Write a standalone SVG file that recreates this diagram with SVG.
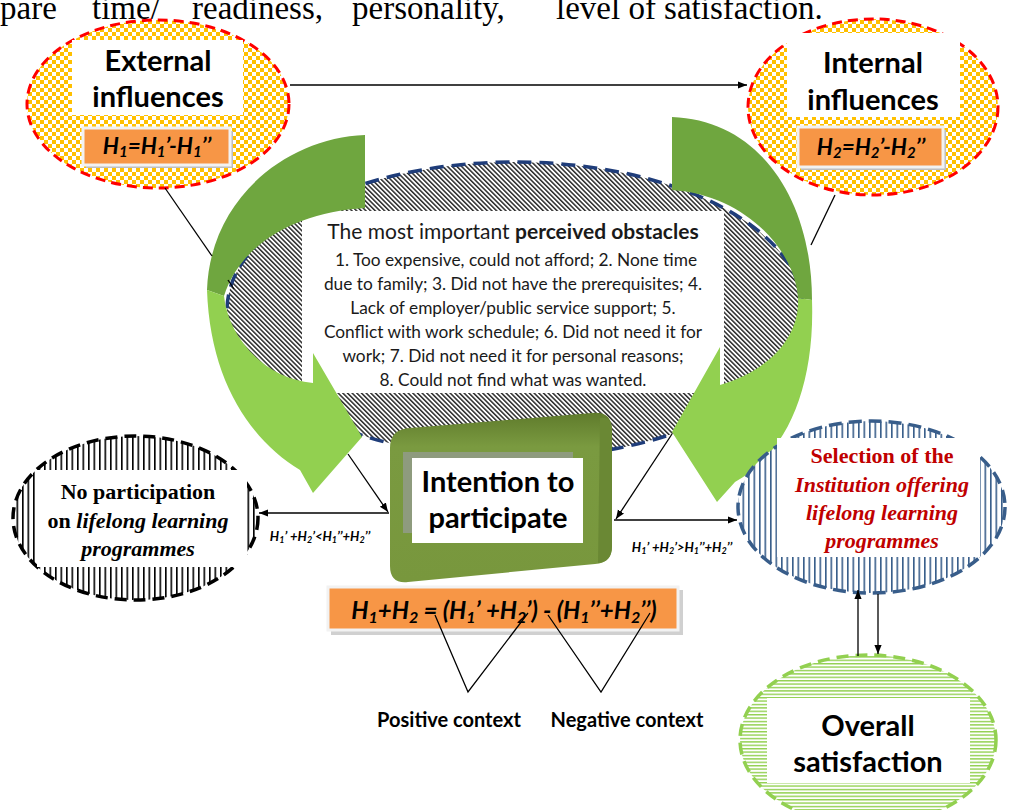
<svg xmlns="http://www.w3.org/2000/svg" width="1010" height="810" viewBox="0 0 1010 810">
<style>
.cal{font-family:Lato,"Open Sans","Liberation Sans",sans-serif}
.ser{font-family:"Liberation Serif","Times New Roman",serif}
.b{font-weight:bold}
.i{font-style:italic}
.ttl{font-family:Lato,"Open Sans","Liberation Sans",sans-serif;font-weight:bold;font-size:29px;text-anchor:middle;fill:#000}
.hx{font-family:Lato,"Open Sans","Liberation Sans",sans-serif;font-weight:bold;font-style:italic;text-anchor:middle;fill:#000}
.ln{stroke:#000;stroke-width:1.3;fill:none}
.arr{stroke:#000;stroke-width:1.3;fill:none;marker-end:url(#ah)}
</style>
<defs>
<marker id="ah" viewBox="0 0 10 10" refX="10" refY="5" markerWidth="9" markerHeight="9" markerUnits="userSpaceOnUse" orient="auto"><path d="M0,1 L10,5 L0,9 Z" fill="#000"/></marker>
<pattern id="chk" width="8" height="8" patternUnits="userSpaceOnUse"><rect width="8" height="8" fill="#fff"/><rect width="4" height="4" fill="#FFC000"/><rect x="4" y="4" width="4" height="4" fill="#FFC000"/></pattern>
<pattern id="diag" width="3.3" height="10" patternUnits="userSpaceOnUse" patternTransform="rotate(-45)"><rect width="3.3" height="10" fill="#fff"/><rect x="0" y="0" width="1.5" height="10" fill="#2a2a2a"/></pattern>
<pattern id="vblack" width="5.5" height="10" patternUnits="userSpaceOnUse"><rect width="5.5" height="10" fill="#fff"/><rect x="0" y="0" width="1.6" height="10" fill="#000"/></pattern>
<pattern id="vblue" width="5.5" height="10" patternUnits="userSpaceOnUse"><rect width="5.5" height="10" fill="#fff"/><rect x="0" y="0" width="1.6" height="10" fill="#385D8A"/></pattern>
<pattern id="hgreen" width="10" height="3.4" patternUnits="userSpaceOnUse"><rect width="10" height="3.4" fill="#fff"/><rect x="0" y="0" width="10" height="1.4" fill="#92D050"/></pattern>
<linearGradient id="olive" x1="0" y1="0" x2="0" y2="1"><stop offset="0" stop-color="#5F7B2C"/><stop offset="0.2" stop-color="#7A9A40"/><stop offset="1" stop-color="#78973D"/></linearGradient>
</defs>
<rect width="1010" height="810" fill="#fff"/>

<g id="top-text" class="ser" font-size="33" fill="#000">
<text x="0" y="19">pare</text>
<text x="92" y="19">time/</text>
<text x="192" y="19">readiness,</text>
<text x="352" y="19">personality,</text>
<text x="556" y="19">level of satisfaction.</text>
</g>

<g id="obstacles">
<ellipse cx="515" cy="310" rx="288" ry="148" fill="url(#diag)" stroke="#1F3D7A" stroke-width="3.5" stroke-dasharray="14 8"/>
<rect x="302" y="211" width="422" height="182" fill="#fff"/>
<text class="cal" x="513" y="239" font-size="21" text-anchor="middle" fill="#1a1a1a">The most important <tspan font-weight="bold">perceived obstacles</tspan></text>
<g class="cal" font-size="17.3" text-anchor="middle" fill="#1a1a1a">
<text x="516" y="266">1. Too expensive, could not afford; 2. None time</text>
<text x="513" y="290">due to family; 3. Did not have the prerequisites; 4.</text>
<text x="513" y="314">Lack of employer/public service support; 5.</text>
<text x="513" y="338">Conflict with work schedule; 6. Did not need it for</text>
<text x="513" y="362">work; 7. Did not need it for personal reasons;</text>
<text x="513" y="386">8. Could not find what was wanted.</text>
</g>
</g>

<g id="cycle-arrows">
<path d="M365,135 C285,138 210,200 207,290 L224,296 C240,245 295,212 365,208 Z" fill="#6FA63F"/>
<path d="M207,290 C210,380 250,440 300,470 L313,493 L362,437 L313,353 L313,383 C262,378 228,335 224,296 Z" fill="#92D050"/>
<path d="M672,117 C760,120 812,200 812,300 L798,298 C795,250 745,195 672,190 Z" fill="#6FA63F"/>
<path d="M812,300 C815,390 785,455 735,482 L717,502 L672,432 L720,347 L720,385 C765,372 800,340 798,298 Z" fill="#92D050"/>
</g>

<g id="external">
<ellipse cx="158" cy="104" rx="131" ry="84" fill="url(#chk)" stroke="#FF0000" stroke-width="3" stroke-dasharray="10 6"/>
<rect x="72" y="40" width="171" height="75" fill="#fff"/>
<text class="ttl" x="158" y="71">External</text>
<text class="ttl" x="158" y="107">influences</text>
<rect x="86" y="131" width="147" height="37" fill="#BFBFBF"/>
<rect x="83" y="128" width="147" height="37" fill="#F79646" stroke="#F2F2F2" stroke-width="3"/>
<text class="hx" x="157" y="154" font-size="22.5">H<tspan font-size="15" dy="3">1</tspan><tspan dy="-3">=H</tspan><tspan font-size="15" dy="3">1</tspan><tspan dy="-3">’-H</tspan><tspan font-size="15" dy="3">1</tspan><tspan dy="-3">’’</tspan></text>
</g>

<g id="internal">
<ellipse cx="873" cy="107" rx="125" ry="88" fill="url(#chk)" stroke="#FF0000" stroke-width="3" stroke-dasharray="10 6"/>
<rect x="787" y="33" width="173" height="84" fill="#fff"/>
<text class="ttl" x="873" y="73">Internal</text>
<text class="ttl" x="873" y="110">influences</text>
<rect x="801" y="130" width="145" height="40" fill="#BFBFBF"/>
<rect x="798" y="127" width="145" height="40" fill="#F79646" stroke="#F2F2F2" stroke-width="3"/>
<text class="hx" x="871" y="155" font-size="22.5">H<tspan font-size="15" dy="3">2</tspan><tspan dy="-3">=H</tspan><tspan font-size="15" dy="3">2</tspan><tspan dy="-3">’-H</tspan><tspan font-size="15" dy="3">2</tspan><tspan dy="-3">’’</tspan></text>
</g>

<g id="intention">
<path d="M410,428 L592,413 Q612,411 612,430 L612,546 Q612,563 595,564 L408,582 Q390,584 390,566 L390,448 Q390,429 410,428 Z" fill="url(#olive)"/>
<path d="M600,418 Q612,416 612,432 L612,546 Q612,562 598,563 Z" fill="#6A8834"/>
<rect x="403" y="452" width="170" height="81" fill="#8E9B7E"/>
<rect x="412" y="458" width="171" height="85" fill="#fff"/>
<text class="ttl" x="498" y="492" font-size="25.5">Intention to</text>
<text class="ttl" x="498" y="528" font-size="25.5">participate</text>
</g>

<g id="formula">
<rect x="331" y="590" width="352" height="45" fill="#D0D0D0"/>
<rect x="328" y="587" width="350" height="43" fill="#F79646" stroke="#F2F2F2" stroke-width="3"/>
<text class="hx" x="504" y="619" font-size="24">H<tspan font-size="16" dy="4">1</tspan><tspan dy="-4">+H</tspan><tspan font-size="16" dy="4">2</tspan><tspan dy="-4"> = (H</tspan><tspan font-size="16" dy="4">1</tspan><tspan dy="-4">’ +H</tspan><tspan font-size="16" dy="4">2</tspan><tspan dy="-4">’) - (H</tspan><tspan font-size="16" dy="4">1</tspan><tspan dy="-4">’’+H</tspan><tspan font-size="16" dy="4">2</tspan><tspan dy="-4">’’)</tspan></text>
</g>

<g id="context-labels" class="cal b" font-size="20" text-anchor="middle" fill="#000">
<text x="449" y="727">Positive context</text>
<text x="627" y="727">Negative context</text>
</g>

<g id="no-participation">
<ellipse cx="135.5" cy="518" rx="122.5" ry="82" fill="url(#vblack)" stroke="#000" stroke-width="3.5" stroke-dasharray="12 7"/>
<rect x="37" y="470" width="210" height="97" fill="#fff"/>
<g class="ser b" font-size="22" text-anchor="middle" fill="#000">
<text x="138" y="499">No participation</text>
<text x="138" y="528">on <tspan font-style="italic">lifelong learning</tspan></text>
<text x="138" y="556" font-style="italic">programmes</text>
</g>
</g>

<g id="selection">
<ellipse cx="871.5" cy="507" rx="133.5" ry="86" fill="url(#vblue)" stroke="#385D8A" stroke-width="3.5" stroke-dasharray="13 7"/>
<rect x="777" y="438" width="203" height="119" fill="#fff"/>
<g class="ser b" font-size="22" text-anchor="middle" fill="#C00000">
<text x="882" y="463">Selection of the</text>
<text x="882" y="492" font-style="italic">Institution offering</text>
<text x="882" y="520" font-style="italic">lifelong learning</text>
<text x="882" y="548" font-style="italic">programmes</text>
</g>
</g>

<g id="overall">
<ellipse cx="868" cy="740" rx="128" ry="85" fill="url(#hgreen)" stroke="#92D050" stroke-width="3.5" stroke-dasharray="12 7"/>
<rect x="767" y="698" width="203" height="85" fill="#fff"/>
<text class="ttl" x="868" y="736" font-size="28">Overall</text>
<text class="ttl" x="868" y="772" font-size="28">satisfaction</text>
</g>

<g id="connectors">
<line class="arr" x1="290" y1="85" x2="747" y2="85"/>
<line class="ln" x1="165" y1="188" x2="212" y2="256"/>
<line class="ln" x1="228" y1="280" x2="234" y2="289"/>
<line class="arr" x1="348" y1="454" x2="388" y2="512"/>
<line class="ln" x1="835" y1="195" x2="811" y2="245"/>
<line class="arr" x1="672" y1="434" x2="616" y2="519"/>
<line class="arr" x1="389" y1="513" x2="259" y2="513"/>
<line class="arr" x1="614" y1="520" x2="737" y2="520"/>
<line class="arr" x1="858" y1="656" x2="858" y2="590"/>
<line class="arr" x1="878" y1="594" x2="878" y2="654"/>
<polyline class="ln" points="435,615 468,692 528,613"/>
<polyline class="ln" points="548,615 601,692 650,613"/>
<text class="hx" x="320" y="541" font-size="13">H<tspan font-size="9" dy="2">1</tspan><tspan dy="-2">’ +H</tspan><tspan font-size="9" dy="2">2</tspan><tspan dy="-2">’&lt;H</tspan><tspan font-size="9" dy="2">1</tspan><tspan dy="-2">’’+H</tspan><tspan font-size="9" dy="2">2</tspan><tspan dy="-2">’’</tspan></text>
<text class="hx" x="682" y="552" font-size="13">H<tspan font-size="9" dy="2">1</tspan><tspan dy="-2">’ +H</tspan><tspan font-size="9" dy="2">2</tspan><tspan dy="-2">’&gt;H</tspan><tspan font-size="9" dy="2">1</tspan><tspan dy="-2">’’+H</tspan><tspan font-size="9" dy="2">2</tspan><tspan dy="-2">’’</tspan></text>
</g>
</svg>
